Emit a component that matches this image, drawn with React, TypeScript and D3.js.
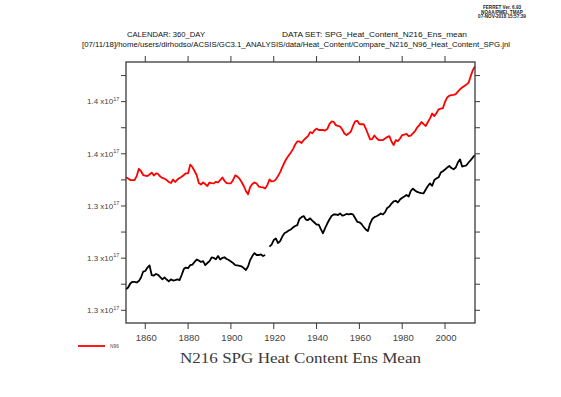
import React from 'react';
import * as d3 from 'd3';

// annual values, 1851-2014, units of 1e17
const firstYear = 1851;
const n96 = [
  1.3565, 1.3558, 1.3549, 1.3549, 1.3549, 1.3572, 1.3614, 1.3601, 1.3578, 1.3575,
  1.3572, 1.3581, 1.3592, 1.3575, 1.3587, 1.3584, 1.3569, 1.3561, 1.3557, 1.3549,
  1.3538, 1.3532, 1.3552, 1.3538, 1.3552, 1.3561, 1.3568, 1.3578, 1.3588, 1.3588,
  1.3638, 1.3624, 1.3601, 1.3578, 1.3532, 1.3523, 1.3535, 1.3526, 1.3515, 1.3535,
  1.3532, 1.3530, 1.3539, 1.3535, 1.3549, 1.3564, 1.3545, 1.3532, 1.3530, 1.3530,
  1.3549, 1.3576, 1.3569, 1.3557, 1.3538, 1.3515, 1.3486, 1.3467, 1.3509, 1.3526,
  1.3535, 1.3529, 1.3512, 1.3509, 1.3507, 1.3500, 1.3520, 1.3552, 1.3541, 1.3543,
  1.3553, 1.3572, 1.3595, 1.3624, 1.3650, 1.3673, 1.3690, 1.3707, 1.3727, 1.3753,
  1.3771, 1.3771, 1.3762, 1.3779, 1.3791, 1.3802, 1.3825, 1.3818, 1.3834, 1.3845,
  1.3837, 1.3837, 1.3837, 1.3834, 1.3842, 1.3871, 1.3886, 1.3883, 1.3865, 1.3860,
  1.3857, 1.3840, 1.3817, 1.3808, 1.3817, 1.3828, 1.3860, 1.3886, 1.3890, 1.3871,
  1.3870, 1.3871, 1.3845, 1.3814, 1.3783, 1.3785, 1.3805, 1.3791, 1.3779, 1.3779,
  1.3779, 1.3788, 1.3796, 1.3802, 1.3771, 1.3750, 1.3779, 1.3773, 1.3788, 1.3808,
  1.3811, 1.3814, 1.3802, 1.3805, 1.3817, 1.3831, 1.3851, 1.3865, 1.3883, 1.3871,
  1.3860, 1.3883, 1.3904, 1.3932, 1.3917, 1.3934, 1.3956, 1.3960, 1.3963, 1.3998,
  1.4024, 1.4034, 1.4037, 1.4039, 1.4043, 1.4058, 1.4071, 1.4081, 1.4090, 1.4098,
  1.4109, 1.4147, 1.4182, 1.4202,
];
const n216: (number | null)[] = [
  1.2921, 1.2931, 1.2954, 1.2964, 1.2964, 1.2960, 1.2968, 1.2989, 1.3022, 1.3026,
  1.3046, 1.3058, 1.3003, 1.3000, 1.3009, 1.3004, 1.2991, 1.2978, 1.2989, 1.2977,
  1.2966, 1.2978, 1.2971, 1.2974, 1.2978, 1.2974, 1.3003, 1.3037, 1.3046, 1.3042,
  1.3060, 1.3063, 1.3078, 1.3092, 1.3086, 1.3078, 1.3083, 1.3060, 1.3072, 1.3083,
  1.3104, 1.3101, 1.3093, 1.3112, 1.3092, 1.3101, 1.3105, 1.3095, 1.3089, 1.3081,
  1.3072, 1.3060, 1.3058, 1.3055, 1.3052, 1.3043, 1.3032, 1.3052, 1.3089, 1.3112,
  1.3129, 1.3118, 1.3118, 1.3121, 1.3112, 1.3118, null, 1.3166, 1.3178, 1.3204,
  1.3213, 1.3187, 1.3198, 1.3224, 1.3243, 1.3250, 1.3259, 1.3265, 1.3276, 1.3285,
  1.3290, 1.3325, 1.3336, 1.3342, 1.3322, 1.3319, 1.3329, 1.3316, 1.3305, 1.3293,
  1.3293, 1.3267, 1.3243, 1.3273, 1.3299, 1.3322, 1.3342, 1.3351, 1.3351, 1.3348,
  1.3357, 1.3345, 1.3348, 1.3354, 1.3351, 1.3354, 1.3351, 1.3331, 1.3309, 1.3306,
  1.3296, 1.3279, 1.3265, 1.3256, 1.3299, 1.3325, 1.3336, 1.3341, 1.3348, 1.3357,
  1.3351, 1.3365, 1.3389, 1.3397, 1.3414, 1.3427, 1.3430, 1.3420, 1.3437, 1.3447,
  1.3454, 1.3463, 1.3454, 1.3486, 1.3500, 1.3489, 1.3481, 1.3477, 1.3474, 1.3473,
  1.3495, 1.3515, 1.3530, 1.3516, 1.3549, 1.3559, 1.3565, 1.3592, 1.3600, 1.3610,
  1.3621, 1.3630, 1.3618, 1.3611, 1.3621, 1.3650, 1.3668, 1.3627, 1.3630, 1.3634,
  1.3650, 1.3664, 1.3679, 1.3693,
];

const xTicks = [1860, 1880, 1900, 1920, 1940, 1960, 1980, 2000];
const yTicks = [1.28, 1.31, 1.34, 1.37, 1.40];
const yTickLabels = ['1.3', '1.3', '1.3', '1.4', '1.4'];
const yMinorTicks = [1.295, 1.325, 1.355, 1.385, 1.415];

const W = 561;
const H = 397;
const plot = { left: 126, right: 475, top: 62, bottom: 323 };
const axisColor = '#3a3a3a';
const textColor = '#444';
const sans = 'Helvetica, Arial, "Liberation Sans", sans-serif';

export default function App() {
  const x = d3.scaleLinear().domain([1851, 2014]).range([plot.left, plot.right]);
  const y = d3.scaleLinear().domain([1.2727, 1.4228]).range([plot.bottom, plot.top]);

  const line = d3
    .line<number | null>()
    .defined((d) => d !== null)
    .x((_, i) => x(firstYear + i))
    .y((d) => y(d as number));

  const tl = 5;

  return (
    <svg
      width={W}
      height={H}
      viewBox={`0 0 ${W} ${H}`}
      style={{ position: 'absolute', left: 0, top: 0, background: '#fff' }}
    >
      {/* ferret stamp */}
      <g fontFamily={sans} fontSize={4.6} fontWeight="bold" fill="#222" textAnchor="middle">
        <text x={502} y={9}>FERRET Ver. 6.93</text>
        <text x={502} y={13.5}>NOAA/PMEL TMAP</text>
        <text x={502} y={18}>07-NOV-2018 15:57:39</text>
      </g>

      {/* header */}
      <g fontFamily={sans} fontSize={7.6} fill="#111">
        <text x={127} y={36.5} textLength={78} lengthAdjust="spacingAndGlyphs">CALENDAR: 360_DAY</text>
        <text x={282} y={36.5} textLength={185} lengthAdjust="spacingAndGlyphs">
          DATA SET: SPG_Heat_Content_N216_Ens_mean
        </text>
        <text x={82} y={47} fontSize={7} textLength={428} lengthAdjust="spacingAndGlyphs">
          [07/11/18]/home/users/dirhodso/ACSIS/GC3.1_ANALYSIS/data/Heat_Content/Compare_N216_N96_Heat_Content_SPG.jnl
        </text>
      </g>

      {/* data */}
      <path d={line(n216) || ''} fill="none" stroke="#000" strokeWidth={1.8} strokeLinejoin="round" />
      <path d={line(n96) || ''} fill="none" stroke="#ff0000" strokeWidth={1.8} strokeLinejoin="round" />

      {/* frame */}
      <rect
        x={plot.left}
        y={plot.top}
        width={plot.right - plot.left}
        height={plot.bottom - plot.top}
        fill="none"
        stroke={axisColor}
        strokeWidth={1.3}
      />

      {/* x ticks */}
      {xTicks.map((t) => (
        <g key={t}>
          <line x1={x(t)} x2={x(t)} y1={plot.bottom} y2={plot.bottom + tl + 1} stroke={axisColor} strokeWidth={1} />
          <line x1={x(t)} x2={x(t)} y1={plot.top} y2={plot.top - tl - 1} stroke={axisColor} strokeWidth={1} />
          <text
            x={x(t) + 1}
            y={341}
            fontFamily={sans}
            fontSize={9.5}
            fill={textColor}
            textAnchor="middle"
          >
            {t}
          </text>
        </g>
      ))}

      {/* y ticks */}
      {yTicks.concat(yMinorTicks).map((t) => (
        <g key={t}>
          <line x1={plot.left - tl} x2={plot.left} y1={y(t)} y2={y(t)} stroke={axisColor} strokeWidth={1} />
          <line x1={plot.right} x2={plot.right + tl} y1={y(t)} y2={y(t)} stroke={axisColor} strokeWidth={1} />
        </g>
      ))}
      {yTicks.map((t, i) => (
        <text key={t} x={87} y={y(t) + 2.8} fontFamily={sans} fontSize={8} fill={textColor}>
          {yTickLabels[i]} x10
          <tspan fontSize={5.5} dy={-3.5}>17</tspan>
        </text>
      ))}

      {/* legend */}
      <line x1={78} x2={105} y1={346} y2={346} stroke="#ff0000" strokeWidth={1.8} />
      <text x={110} y={348} fontFamily={sans} fontSize={4.8} fill={textColor}>N96</text>

      {/* title */}
      <text
        x={180}
        y={363}
        fontFamily='"Liberation Serif", "DejaVu Serif", serif'
        fontSize={15}
        fill="#3a3a3a"
        textLength={241}
        lengthAdjust="spacingAndGlyphs"
      >
        N216 SPG Heat Content Ens Mean
      </text>
    </svg>
  );
}
